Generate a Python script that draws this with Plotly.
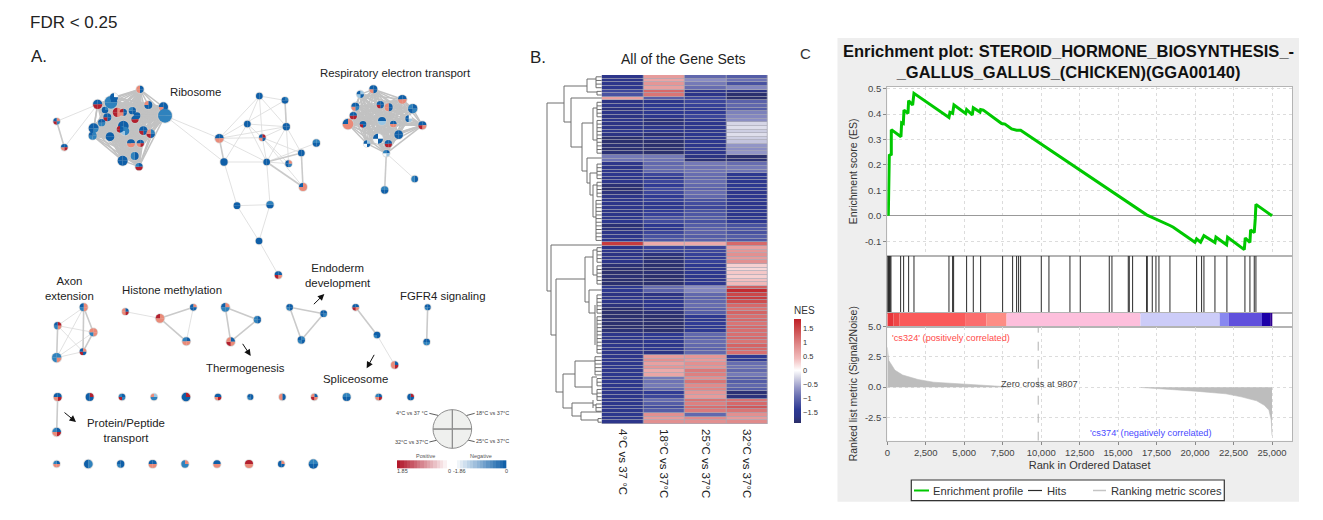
import plotly.graph_objects as go
from itertools import combinations

W, H = 1323, 520

# ---------- Panel A data (network coordinates: 3 units = 1 px) ----------
ribo_nodes = [
 (293,313,14,"BRRB"),(333,307,19,"BCCC"),(342,292,12,"WBBB"),(420,268,11,"BBSS"),(445,315,12,"BBBS"),
 (490,321,14,"BBSB"),(315,330,10,"CBBB"),(322,352,12,"BBRB"),(352,337,14,"SSRR"),(370,337,11,"BBSR"),
 (397,332,11,"BBBC"),(411,347,10,"BBCB"),(405,358,11,"BRRB"),(305,368,11,"BCCB"),(281,385,15,"BCBB"),
 (278,407,12,"CCCB"),(330,410,13,"BBBB"),(370,378,16,"BBCB"),(375,393,13,"CCLC"),(360,388,10,"BBRR"),
 (430,392,13,"BBRB"),(452,401,13,"CBRS"),(393,430,12,"BSSB"),(421,430,11,"BRSB"),(404,468,12,"BBCC"),
 (368,482,15,"BBBB"),(417,500,11,"BRRC"),(495,347,21,"CCCC"),
]
ribo_side = [(170,364,10,"SCRB"),(193,442,10,"BRSB")]
center_nodes = [
 (778,288,10,"BBBB"),(855,301,10,"CBBB"),(742,372,10,"BBBB"),(859,380,11,"BBBB"),(658,415,13,"BSSB"),
 (787,413,10,"RBSB"),(672,486,11,"BBBB"),(800,486,10,"BBBB"),(949,429,11,"CBBC"),(904,459,10,"BBBB"),
 (866,491,10,"SCBB"),(909,561,12,"SSSB"),(711,617,10,"BBBB"),(810,614,11,"CBBC"),(777,723,10,"BBBB"),
 (835,825,11,"BSRB"),
]
resp_nodes = [
 (1120,268,12,"BBSB"),(1081,283,11,"LBLB"),(1207,298,13,"BSSB"),(1238,326,14,"BCBC"),(1066,320,12,"BCSB"),
 (1141,314,11,"BBRB"),(1166,322,12,"BBSS"),(1060,347,11,"BRRB"),(1226,356,10,"WLBB"),(1044,372,16,"SSSB"),
 (1089,373,10,"BBRB"),(1146,363,12,"BLLB"),(1180,372,10,"BSSB"),(1267,376,12,"BSRB"),(1196,404,13,"BBBB"),
 (1134,416,15,"WBWB"),(1101,431,10,"LBWB"),(1165,431,11,"BRRB"),(1159,460,10,"BLWC"),
]
resp_tail = [(1154,570,11,"CBBC"),(1244,537,10,"BBCC")]
axon_nodes = [(251,922,12,"SSCB"),(173,977,11,"RSCB"),(280,997,12,"SSCS"),(170,1073,14,"CSCC"),(249,1055,10,"SBRB")]
histone_nodes = [(376,935,10,"BRSS"),(480,955,13,"SSSR"),(580,922,10,"SBBB"),(559,1024,12,"BSSC")]
thermo_nodes = [(676,922,13,"SCCB"),(772,959,11,"BBCC"),(692,1025,13,"BSRS")]
endo_nodes = [(869,922,10,"BBCB"),(971,941,10,"BCBB"),(904,1020,11,"CBCB")]
splice_nodes = [(1067,922,10,"BSRB"),(1131,1005,10,"BBCB"),(1184,1095,11,"BRSS")]
fgfr_nodes = [(1283,922,9,"BBCB"),(1280,1026,10,"BCCB")]
protein_nodes = [(173,1191,12,"BRSB"),(170,1296,13,"BRSC")]
row1_nodes = [(269,1191,12,"RBBB"),(366,1191,10,"BCRC"),(462,1191,10,"LCCS"),(558,1191,13,"RBBB"),(654,1191,10,"BRSB"),
 (751,1191,9,"BBCB"),(847,1191,10,"BBSS"),(943,1191,10,"BSRS"),(1040,1191,12,"CBBC"),(1136,1191,10,"BRSC"),(1232,1191,10,"RBBB")]
row2_nodes = [(170,1392,10,"BSSC"),(265,1392,13,"CCBB"),(362,1392,11,"BBCB"),(458,1392,12,"BSSB"),(555,1392,11,"SCCC"),
 (651,1392,11,"BSSB"),(747,1392,12,"RSSR"),(844,1392,10,"SBBB"),(940,1392,14,"CBBC")]
node_colors = {"B":"#0f5fa8","C":"#2f82bd","L":"#9cc6e2","W":"#f6f9fb","R":"#b2202e","S":"#ea8a78"}
quadrant_share = [1,1,1,1]

center_edges_thin = [(0,1),(0,2),(0,3),(0,5),(0,4),(1,4),(1,3),(2,3),(2,5),(2,7),(2,6),(3,5),(3,7),(3,4),(4,5),(4,7),(6,7),
 (5,7),(5,9),(5,10),(5,11),(7,8),(7,10),(3,9),(3,10),(6,12),(7,13),(12,13),(12,14),(13,14),(14,15)]
center_edges_thick = [(4,6),(7,9),(7,11),(9,11),(1,3)]
axon_edges = [(0,1),(0,3),(1,2),(2,3),(3,4),(1,4)]
axon_edges_thick = [(0,2),(0,4),(1,3),(2,4)]

# ---------- Panel A legend data ----------
nes_positive = [1.85,1.72,1.6,1.48,1.35,1.23,1.1,0.98,0.86,0.74,0.62,0.5,0.37,0.25,0.12,0.0]
nes_negative = [0.0,-0.12,-0.25,-0.37,-0.5,-0.62,-0.74,-0.86,-0.98,-1.1,-1.23,-1.35,-1.48,-1.6,-1.72,-1.86]

# ---------- Panel B data (NES) ----------
conditions = ["4°C vs 37 °C","18°C vs 37°C","25°C vs 37°C","32°C vs 37°C"]
nes_4C = [-1.6,-1.65,-1.6,-1.55,-1.3,-1.2, 0.7,
 -1.7,-1.6,-1.75,-1.65,-1.7,-1.6,-1.7,-1.65,-1.6,-1.7,-1.85,-1.85,-1.8,-1.85,-1.8, -0.85,-0.9,
 -1.6,-1.65,-1.6,-1.55,-1.65,-1.6,-1.8,-1.85,-1.75,-1.65,-1.6,-1.65,-1.6,-1.7,-1.65,-1.6,-1.55,-1.8,-1.75,-1.65,-1.6,-1.55, 1.6,
 -1.65,-1.6,-1.7,-1.6,-1.65,-1.8,-1.85,-1.85,-1.8,-1.85,-1.85,
 -1.5,-1.5,-1.7,-1.6,-1.65,-1.75,-1.85,-1.85,-1.85,-1.8,-1.85,-1.85,-1.8,-1.6,-1.6,-1.7,-1.6,-1.6,-1.65,
 -1.6,-1.55,-1.6,-1.55,-1.6,-1.55,-1.6,-1.55,-1.6,-1.55,-1.6,-1.6,-1.55,-1.6,-1.55,-1.6,-1.55,-1.6,-1.6]
nes_18C = [.75,.65,.8,.7,1.2,1.1,-1.1,
 -1.6,-1.5,-1.45,-1.5,-1.55,-1.8,-1.75,-1.6,-1.55,-1.8,-1.6,-1.85,-1.85,-1.85,-1.85, -.85,-.9,
 -1.0,-.95,-1.0,-1.3,-1.45,-1.3,-1.4,-1.25,-1.3,-1.4,-1.35,-1.55,-1.5,-1.4,-1.35,-1.2,-1.25,-1.5,-1.55,-1.3,-1.2,-1.15, .6,
 -1.3,-1.35,-1.75,-1.8,-1.8,-1.85,-1.85,-1.8,-1.85,-1.85,-1.85,
 -.95,-1.05,-1.7,-1.6,-1.55,-1.6,-1.7,-1.8,-1.85,-1.85,-1.85,-1.85,-1.85,-1.5,-1.45,-1.55,-1.6,-1.55,-1.7,
 .75,.85,.7,.8,.6,.65,-.85,-.9,-.85,-1.0,-1.4,-1.3,-.95,-1.1,-1.25,-1.1,.85,.75,.85]
nes_25C = [-1.0,-.7,-.85,-.95,-1.6,-1.65,-1.3,-1.3,-1.35,-1.45,-1.4,-1.3,
 -1.55,-1.6,-1.55,-1.6,-1.55,-1.6,-1.55,-1.6,-1.55,-1.6,-1.7,-1.8,
 -.85,-.9,-.9,-.95,-1.0,-.95,-1.0,-1.05,-.95,-1.0,-1.2,-1.25,-1.3,-1.2,-1.15,-1.1,-1.2,-1.1,-1.05,-1.05,-1.1,-1.05, .6,
 -1.3,-1.3,-1.35,-1.4,-1.35,-1.5,-1.55,-1.5,-1.6,-1.6,-1.55,
 -.7,-.75,-1.0,-1.05,-1.0,-.95,-1.05,-1.1,-1.45,-1.5,-1.4,-1.5,-1.45,-1.0,-1.05,-.95,-1.0,-1.05,-1.0,
 .8,.75,.85,.8,1.05,1.0,.85,1.1,.9,.95,.8,.75,1.1,1.0,1.15,1.05,-1.0,.9,.85]
nes_32C = [-1.1,-.9,-1.2,-.75,-1.7,-1.85,-1.85,-1.05,-1.0,-1.1,-.8,-.75,-.7,
 -.25,-.2,-.3,-.2,-.3,-.35,-.65,-.7,-.65,-1.85,-1.8,
 -.95,-.85,-.9,-1.5,-1.45,-1.55,-1.5,-1.45,-1.6,-1.55,-1.5,-1.6,-1.55,-1.5,-1.6,-1.55,-1.45,-1.2,-1.15,-1.2,-1.1,-1.15, 1.2,
 .7,.8,.85,.75,.85,.3,.25,.35,.3,.4,.45,
 1.3,1.75,1.5,1.6,1.45,1.2,1.1,1.25,1.15,1.2,1.1,1.2,1.15,1.15,1.2,1.1,1.25,1.2,1.15,
 -1.45,-1.4,-.95,-.9,-1.0,-.85,-1.05,-1.1,-1.0,-1.1,-1.8,-1.75,1.1,1.2,1.35,1.1,.85,.75,.9]
for col in (nes_4C, nes_18C, nes_25C, nes_32C):
    assert len(col) == 96, len(col)
nes_ticks = [-1.5,-1,-0.5,0,0.5,1,1.5]

# dendrogram branches, in page pixels: (x0,y0,x1,y1)
dendro_segments = [
 (547,103,547,291),(547,103,564,103),(564,86,564,122),(564,86,587,86),(587,79,587,92),(587,79,596,79),(587,92,597,92),
 (564,122,571,122),(571,98,571,147),(571,98,601.7,98),(571,147,582,147),(582,123,582,171),(582,123,593,123),
 (593,108,593,140),(593,108,597,108),(593,140,597,140),(582,171,587,171),(587,158,587,183),(587,158,601.7,158),
 (587,183,590,183),(590,173,590,195),(590,173,597,173),(590,195,593,195),(593,185,593,217),(593,185,597,185),(593,217,596,217),
 (547,291,551,291),(551,245,551,335),(551,245,601.7,245),(551,335,556,335),(556,279,556,392),(556,279,585,279),
 (585,257,585,302),(585,257,593,257),(593,250,593,275),(593,250,597,250),(593,275,597,275),(585,302,589,302),
 (589,290,589,313),(589,290,601.7,290),(589,313,595,313),(595,305,595,345),
 (556,392,563,392),(563,374,563,408),(563,374,575,374),(575,361,575,387),(575,361,595,361),(575,387,592,387),
 (592,377,592,394),(592,377,597,377),(592,394,597,394),(563,408,572,408),(572,403,572,416),(572,403,593,403),
 (593,400,593,408),(593,405,596,405),(572,416,581,416),(581,412,581,420),(581,412,601.7,412),(581,420,598,420),
]
# leaf brackets: (bracket x, first row, last row)
dendro_leaves = [(596,0,3),(597,4,5),(597,7,11),(597,12,21),(597,24,28),(597,29,33),(596,34,45),(597,47,51),(597,52,57),
 (597,60,65),(597,66,76),(595,77,82),(597,83,85),(597,86,89),(596,90,92),(598,94,95)]

# ---------- Panel C data ----------
es_rank = [65,87,130,260,260,888,931,1040,1083,1343,1386,1646,1733,4007,4072,4245,4332,5090,5155,5523,5588,6021,6065,6238,
 7429,7646,8079,8404,8664,16851,17610,18368,18584,19992,20100,20360,20577,21292,21357,22050,22115,23198,23263,23566,
 23610,23847,23912,23956,25000]
es_score = [0,.124,.238,.242,.339,.311,.366,.363,.416,.403,.453,.436,.482,.387,.407,.403,.436,.403,.418,.397,.425,.408,.418,.416,
 .363,.361,.342,.337,.337,.004,-.016,-.038,-.045,-.104,-.091,-.104,-.078,-.105,-.084,-.114,-.084,-.133,-.087,-.105,
 -.055,-.066,-.012,.045,0]
hit_rank = [20,60,87,120,152,190,238,866,1061,1386,1733,4007,4245,4310,5155,5588,6065,7494,8144,8404,8534,8664,10007,10505,
 11870,12541,14426,14599,15660,15725,15942,16851,16895,17220,17458,17653,18368,20100,20425,20577,21292,22071,23241,23566,23847,23956]
metric_pos_rank = [0,30,100,200,500,1000,2000,3000,5000,7500,7800]
metric_pos = [3.3,2.7,2.2,2.0,1.4,1.0,.63,.41,.25,.08,.03]
metric_neg_rank = [16500,18000,20000,22000,23000,24000,24500,24800,24950,25000]
metric_neg = [-.03,-.15,-.33,-.55,-.8,-1.13,-1.5,-1.9,-2.7,-4.0]
band_start = [0,400,800,5100,6450,7750,16450,21600,22200,24350,24900]
band_end = [400,800,5100,6450,7750,16450,21600,22200,24350,24900,25000]
band_color = ["#e8353a","#f04848","#fa5a5a","#fb6e6e","#fd8d85","#fdbfdc","#ccccf8","#8888f0","#6050dc","#1c00a8","#300090"]
zero_cross = 9807
rank_ticks = [0,2500,5000,7500,10000,12500,15000,17500,20000,22500,25000]
es_ticks = [0.5,0.4,0.3,0.2,0.1,0.0,-0.1]
es_labels = ["0.5","0.4","0.3","0.2","0.1","0.0","-0.1"]
metric_ticks = [5,2.5,0,-2.5]
metric_labels = ["5.0","2.5","0.0","-2.5"]

SANS = "Liberation Sans"
fig = go.Figure()

def dom_x(a, b): return [a / W, b / W]
def dom_y(top, bottom): return [1 - bottom / H, 1 - top / H]

# ---------- layout axes ----------
hidden = dict(visible=False, fixedrange=True)
ES_L, ES_R = 887.3, 1292
RANK_RANGE = [0, 26300]
frame = dict(showline=True, mirror=True, linecolor="#b4b4b4", linewidth=1.2, zeroline=False)
tick_font = dict(family=SANS, size=9.5, color="#444444")
grid = dict(showgrid=True, gridcolor="#dcdcdc", griddash="dot", gridwidth=1)

layout_axes = dict(
    xaxis=dict(domain=[0, 1], range=[0, 3969], anchor="y", **hidden),
    yaxis=dict(domain=[0, 1], range=[1560, 0], anchor="x", **hidden),
    xaxis2=dict(domain=dom_x(601.7, 767.7), anchor="y2", range=[-0.5, 3.5], tickmode="array", tickvals=[0, 1, 2, 3],
                ticktext=conditions, tickangle=90, ticks="", showline=False, showgrid=False, zeroline=False, ticklabelstandoff=4,
                tickfont=dict(family=SANS, size=11.5, color="#222222"), fixedrange=True),
    yaxis2=dict(domain=dom_y(75, 424), anchor="x2", range=[95.5, -0.5], **hidden),
    xaxis3=dict(domain=dom_x(ES_L, ES_R), anchor="y3", range=RANK_RANGE, tickmode="array", tickvals=rank_ticks,
                showticklabels=False, ticks="", **frame, **grid),
    yaxis3=dict(domain=dom_y(86.7, 256), anchor="x3", range=[-0.158, 0.508], tickmode="array", tickvals=es_ticks,
                ticktext=es_labels, ticks="outside", ticklen=3, tickcolor="#888888", tickfont=tick_font,
                title=dict(text="Enrichment score (ES)", font=dict(family=SANS, size=10.5, color="#333333"), standoff=5),
                **{**frame, "zeroline": True}, zerolinecolor="#999999", zerolinewidth=1, **grid),
    xaxis4=dict(domain=dom_x(ES_L, ES_R), anchor="y4", range=RANK_RANGE, showticklabels=False, ticks="", showgrid=False, **frame),
    yaxis4=dict(domain=dom_y(256, 312.7), anchor="x4", range=[0, 1], showticklabels=False, ticks="", showgrid=False, **frame),
    xaxis5=dict(domain=dom_x(ES_L, ES_R), anchor="y5", range=RANK_RANGE, showticklabels=False, ticks="", showgrid=False, **frame),
    yaxis5=dict(domain=dom_y(312.7, 326.7), anchor="x5", range=[0, 1], showticklabels=False, ticks="", showgrid=False, **frame),
    xaxis6=dict(domain=dom_x(ES_L, ES_R), anchor="y6", range=RANK_RANGE, tickmode="array", tickvals=rank_ticks, tickformat=",",
                ticks="outside", ticklen=3, tickcolor="#888888", tickfont=tick_font,
                title=dict(text="Rank in Ordered Dataset", font=dict(family=SANS, size=11, color="#333333"), standoff=4),
                **frame, **grid),
    yaxis6=dict(domain=dom_y(326.7, 440.7), anchor="x6", range=[-4.43, 5], tickmode="array", tickvals=metric_ticks,
                ticktext=metric_labels, ticks="outside", ticklen=3, tickcolor="#888888", tickfont=tick_font,
                title=dict(text="Ranked list metric (Signal2Noise)", font=dict(family=SANS, size=10.5, color="#333333"), standoff=5),
                **frame, **grid),
    xaxis7=dict(domain=[0, 1], range=[0, W], anchor="y7", **hidden),
    yaxis7=dict(domain=[0, 1], range=[H, 0], anchor="x7", **hidden),
)

# ---------- Panel A: edges ----------
def edge_trace(pairs, width, color):
    xs, ys = [], []
    for a, b in pairs:
        xs += [a[0], b[0], None]
        ys += [a[1], b[1], None]
    fig.add_trace(go.Scatter(x=xs, y=ys, mode="lines", line=dict(color=color, width=width), hoverinfo="skip",
                             showlegend=False, xaxis="x", yaxis="y"))

THIN, THICK = "#dedede", "#cacaca"
pairs_dense = list(combinations(ribo_nodes, 2)) + list(combinations(resp_nodes, 2))
edge_trace(pairs_dense, 1.5, "#c2c2c2")
thin_pairs = [(center_nodes[a], center_nodes[b]) for a, b in center_edges_thin]
thin_pairs += [(axon_nodes[a], axon_nodes[b]) for a, b in axon_edges]
thin_pairs += [(ribo_side[0], ribo_nodes[0]), (ribo_side[1], ribo_nodes[0]), (ribo_nodes[27], center_nodes[4]),
               (ribo_nodes[27], center_nodes[6]), (histone_nodes[0], histone_nodes[1]), (splice_nodes[1], splice_nodes[2]),
               (resp_nodes[18], resp_tail[1]), (histone_nodes[2], histone_nodes[3])]
edge_trace(thin_pairs, 0.9, THIN)
thick_pairs = [(center_nodes[a], center_nodes[b]) for a, b in center_edges_thick]
thick_pairs += [(axon_nodes[a], axon_nodes[b]) for a, b in axon_edges_thick]
thick_pairs += [(ribo_side[0], ribo_side[1]), (resp_nodes[18], resp_tail[0]),
                (histone_nodes[1], histone_nodes[2]), (histone_nodes[1], histone_nodes[3]),
                (thermo_nodes[0], thermo_nodes[1]), (thermo_nodes[1], thermo_nodes[2]), (thermo_nodes[0], thermo_nodes[2]),
                (endo_nodes[0], endo_nodes[1]), (endo_nodes[1], endo_nodes[2]), (endo_nodes[0], endo_nodes[2]),
                (splice_nodes[0], splice_nodes[1]), (fgfr_nodes[0], fgfr_nodes[1]), (protein_nodes[0], protein_nodes[1])]
edge_trace(thick_pairs, 1.6, THICK)

all_nodes = (ribo_side + ribo_nodes + center_nodes + resp_nodes + resp_tail + axon_nodes + histone_nodes + thermo_nodes
             + endo_nodes + splice_nodes + fgfr_nodes + protein_nodes + row1_nodes + row2_nodes)
fig.add_trace(go.Scatter(x=[n[0] for n in all_nodes], y=[n[1] for n in all_nodes], mode="markers",
                         marker=dict(size=[n[2] * 2 / 3 + 1.6 for n in all_nodes], color="#cfcfcf", line=dict(width=0)),
                         hoverinfo="skip", showlegend=False, xaxis="x", yaxis="y"))

# pie glyphs (slices run clockwise from 12 o'clock: 18, 25, 32, 4 °C)
def pie_at(x, y, r, colors, line=None):
    px, py, pr = x / 3, y / 3, r / 3
    fig.add_trace(go.Pie(values=quadrant_share, sort=False, direction="clockwise", rotation=0,
                         domain=dict(x=dom_x(px - pr, px + pr), y=dom_y(py - pr, py + pr)),
                         marker=dict(colors=colors, line=line or dict(width=0)),
                         textinfo="none", hoverinfo="skip", showlegend=False))

for x, y, r, q in all_nodes:
    pie_at(x, y, r, [node_colors[c] for c in q])
pie_at(1357, 1287, 58, ["#eff0ee"] * 4, dict(color="#8f8f8f", width=1))

# legend leader lines and gradient bars
legend_leaders_x = [1288, 1322, None, 1394, 1424, None, 1288, 1322, None, 1394, 1424]
legend_leaders_y = [1240, 1248, None, 1248, 1240, None, 1326, 1318, None, 1318, 1325]
fig.add_trace(go.Scatter(x=legend_leaders_x, y=legend_leaders_y, mode="lines", line=dict(color="#333333", width=0.8),
                         hoverinfo="skip", showlegend=False, xaxis="x", yaxis="y"))
fig.add_trace(go.Heatmap(z=[nes_positive], x=[1191 + i * 159 / 16 for i in range(17)], y=[1381, 1404],
                         colorscale=[[0, "#ffffff"], [1, "#b2182b"]], zmin=0, zmax=1.85, showscale=False,
                         hoverinfo="skip", xaxis="x", yaxis="y"))
fig.add_trace(go.Heatmap(z=[nes_negative], x=[1360 + i * 159 / 16 for i in range(17)], y=[1381, 1404],
                         colorscale=[[0, "#0f5fa8"], [1, "#ffffff"]], zmin=-1.86, zmax=0, showscale=False,
                         hoverinfo="skip", xaxis="x", yaxis="y"))

# ---------- Panel B ----------
nes_scale = [[0, "#2b2e66"], [0.06, "#2c3588"], [0.13, "#2e3a94"], [0.26, "#6a70b2"], [0.34, "#9698c8"], [0.44, "#d6d6e6"],
             [0.507, "#ffffff"], [0.62, "#f2bcbc"], [0.75, "#e08a8a"], [0.9, "#cc4a4c"], [1, "#c01f26"]]
fig.add_trace(go.Heatmap(z=[list(r) for r in zip(nes_4C, nes_18C, nes_25C, nes_32C)], x=[0, 1, 2, 3], y=list(range(96)),
                         colorscale=nes_scale, zmin=-1.9, zmax=1.85, xgap=0.8, ygap=0.7, hoverinfo="skip",
                         colorbar=dict(title=dict(text="NES", side="top", font=dict(family=SANS, size=10, color="#333333")),
                                       lenmode="pixels", len=120, thicknessmode="pixels", thickness=7, x=794 / W, xanchor="left",
                                       y=1 - 303 / H, yanchor="top", xpad=0, ypad=0, outlinewidth=0, ticks="",
                                       tickmode="array", tickvals=nes_ticks, tickfont=dict(family=SANS, size=7.5, color="#333333")),
                         xaxis="x2", yaxis="y2"))

dx, dy = [], []
for x0, y0, x1, y1 in dendro_segments:
    dx += [x0, x1, None]
    dy += [y0, y1, None]
ROW_TOP, ROW_H = 75, 349 / 96
for bx, first, last in dendro_leaves:
    top = ROW_TOP + ROW_H * (first + 0.5)
    bottom = ROW_TOP + ROW_H * (last + 0.5)
    dx += [bx, bx, None]
    dy += [top, bottom, None]
    for row in range(first, last + 1):
        yy = ROW_TOP + ROW_H * (row + 0.5)
        dx += [bx, 601.7, None]
        dy += [yy, yy, None]
fig.add_trace(go.Scatter(x=dx, y=dy, mode="lines", line=dict(color="#6e6e6e", width=1), hoverinfo="skip",
                         showlegend=False, xaxis="x7", yaxis="y7"))

# ---------- Panel C ----------
fig.add_trace(go.Scatter(x=es_rank, y=es_score, mode="lines", name="Enrichment profile", line=dict(color="#00c800", width=3),
                         hoverinfo="skip", showlegend=False, xaxis="x3", yaxis="y3"))
hx, hy = [], []
for r in hit_rank:
    hx += [r, r, None]
    hy += [0, 1, None]
fig.add_trace(go.Scatter(x=hx, y=hy, mode="lines", name="Hits", line=dict(color="#2a2a2a", width=1),
                         hoverinfo="skip", showlegend=False, xaxis="x4", yaxis="y4"))
fig.add_trace(go.Bar(y=[0.5] * len(band_start), x=[e - s for s, e in zip(band_start, band_end)], base=band_start, orientation="h",
                     width=1, marker=dict(color=band_color, line=dict(width=0)), hoverinfo="skip", showlegend=False,
                     xaxis="x5", yaxis="y5"))
fig.add_trace(go.Scatter(x=metric_pos_rank, y=metric_pos, mode="lines", name="Ranking metric scores", fill="tozeroy",
                         fillcolor="#bdbdbd", line=dict(color="#bdbdbd", width=0.6), hoverinfo="skip", showlegend=False, xaxis="x6", yaxis="y6"))
fig.add_trace(go.Scatter(x=metric_neg_rank, y=metric_neg, mode="lines", fill="tozeroy", fillcolor="#bdbdbd",
                         line=dict(color="#bdbdbd", width=0.6), hoverinfo="skip", showlegend=False, xaxis="x6", yaxis="y6"))

# ---------- backgrounds ----------
def rect(x0, y0, x1, y1, color, line=None):
    return dict(type="rect", xref="paper", yref="paper", x0=x0 / W, x1=x1 / W, y0=1 - y0 / H, y1=1 - y1 / H,
                fillcolor=color, line=line or dict(width=0), layer="below")
def key_line(x0, x1, color, width):
    return dict(type="line", xref="x7", yref="y7", x0=x0, x1=x1, y0=490.5, y1=490.5, line=dict(color=color, width=width))

shapes = [rect(837.5, 38, 1299, 501.7, "#eeeeee"), rect(ES_L, 86.7, ES_R, 440.7, "#ffffff"), rect(601.7, 75, 767.7, 424, "#a9a9b6"),
          rect(911.3, 480, 1224.3, 500.7, "#ffffff", dict(color="#333333", width=1.2)),
          key_line(914, 929, "#00c800", 2), key_line(1028, 1042, "#2a2a2a", 1.2), key_line(1093, 1106, "#c4c4c4", 1.5),
          dict(type="line", xref="x6", yref="y6", x0=zero_cross, x1=zero_cross, y0=-4.43, y1=5,
               line=dict(color="#b0b0b0", width=1, dash="dash")),
          dict(type="line", xref="x", yref="y", x0=1357, x1=1357, y0=1229, y1=1345, line=dict(color="#8f8f8f", width=1)),
          dict(type="line", xref="x", yref="y", x0=1299, x1=1415, y0=1287, y1=1287, line=dict(color="#8f8f8f", width=1))]

# ---------- text ----------
notes = []
def page_note(text, x, y, size, color="#222222", anchor="left", family=SANS):
    notes.append(dict(text=text, xref="paper", yref="paper", x=x / W, y=1 - y / H, xanchor=anchor, yanchor="middle",
                      showarrow=False, borderpad=0, font=dict(family=family, size=size, color=color)))
def net_note(text, x, y, size, anchor="center", color="#222222"):
    notes.append(dict(text=text, xref="x", yref="y", x=x, y=y, xanchor=anchor, yanchor="middle", showarrow=False, borderpad=0,
                      font=dict(family=SANS, size=size, color=color)))
def net_arrow(tail, head):
    notes.append(dict(text="", xref="x", yref="y", axref="x", ayref="y", x=head[0], y=head[1], ax=tail[0], ay=tail[1],
                      showarrow=True, arrowhead=2, arrowsize=1.3, arrowwidth=1, arrowcolor="#111111"))

page_note("FDR &lt; 0.25", 29, 22.5, 17)
page_note("A.", 30, 56, 17)
page_note("B.", 529, 57, 17)
page_note("C", 799, 54, 15, color="#333333")
page_note("All of the Gene Sets", 683, 59, 14, anchor="center")
page_note("<b>Enrichment plot: STEROID_HORMONE_BIOSYNTHESIS_-<br>_GALLUS_GALLUS_(CHICKEN)(GGA00140)</b>", 1068, 61, 16.5, color="#111111", anchor="center")
page_note("Enrichment profile", 932, 490.5, 11.2, color="#333333")
page_note("Hits", 1046, 490.5, 11.2, color="#333333")
page_note("Ranking metric scores", 1110, 490.5, 11.2, color="#333333")

net_note("Ribosome", 585, 275, 11.4)
net_note("Respiratory electron transport", 1186, 218, 11.4)
net_note("Axon<br>extension", 207, 866, 11.4)
net_note("Histone methylation", 516, 870, 11.4)
net_note("Endoderm<br>development", 1015, 826, 11.4)
net_note("FGFR4 signaling", 1327, 888, 11.4)
net_note("Thermogenesis", 737, 1104, 11.4)
net_note("Spliceosome", 1065, 1138, 11.4)
net_note("Protein/Peptide<br>transport", 378, 1292, 11.4)
net_arrow((937, 917), (973, 882))
net_arrow((725, 1027), (752, 1068))
net_arrow((1125, 1060), (1100, 1105))
net_arrow((189, 1234), (228, 1266))
net_note("4°C vs 37 °C", 1288, 1239, 5.5, "right", "#444444")
net_note("18°C vs 37°C", 1426, 1239, 5.5, "left", "#444444")
net_note("32°C vs 37°C", 1288, 1325, 5.5, "right", "#444444")
net_note("25°C vs 37°C", 1426, 1324, 5.5, "left", "#444444")
net_note("Positive", 1275, 1367, 5.5, color="#555555")
net_note("Negative", 1444, 1367, 5.5, color="#555555")
net_note("1.85", 1207, 1414, 5.5, color="#444444")
net_note("0", 1349, 1414, 5.5, color="#444444")
net_note("-1.86", 1378, 1414, 5.5, color="#444444")
net_note("0", 1519, 1414, 5.5, color="#444444")

for text, x, y, color, anchor in [("'cs324' (positively correlated)", 230, 4.05, "#ff4a4a", "left"),
                                  ("'cs374' (negatively correlated)", 13080, -3.83, "#4a4aff", "left"),
                                  ("Zero cross at 9807", 7300, 0.3, "#444444", "left")]:
    notes.append(dict(text=text, xref="x6", yref="y6", x=x, y=y, xanchor=anchor, yanchor="middle", showarrow=False, borderpad=0,
                      font=dict(family=SANS, size=9.2, color=color)))

fig.update_layout(
    width=W, height=H, margin=dict(l=0, r=0, t=0, b=0, pad=0, autoexpand=False), paper_bgcolor="#ffffff", plot_bgcolor="rgba(0,0,0,0)",
    font=dict(family=SANS), barmode="overlay", shapes=shapes, annotations=notes, hovermode=False, showlegend=False,
    **layout_axes,
)
fig.write_html("out.html", config=dict(displayModeBar=False), post_script="document.body.style.margin='0';document.body.style.overflow='hidden';")
